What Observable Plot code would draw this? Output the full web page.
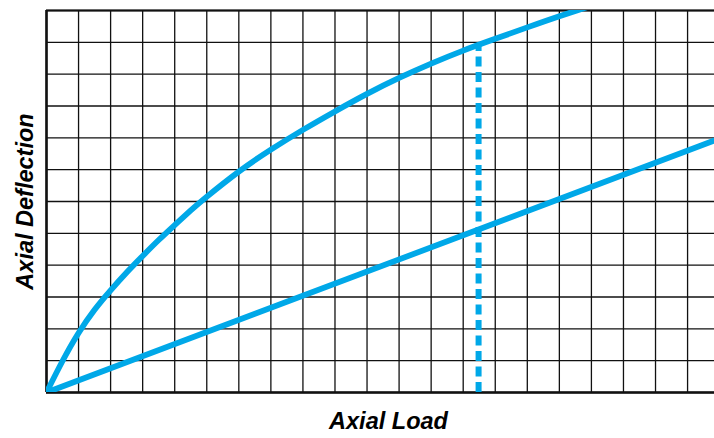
<!DOCTYPE html>
<html>
<head>
<meta charset="utf-8">
<script src="https://cdn.jsdelivr.net/npm/d3@7"></script>
<script src="https://cdn.jsdelivr.net/npm/@observablehq/plot@0.6"></script>
<style>
  html, body { margin: 0; padding: 0; background: #fff; overflow: hidden; }
  #chart svg { display: block; }
</style>
</head>
<body>
<div id="chart"></div>
<script>
// Grid positions (cell units)
const gridX = [0,1,2,3,4,5,6,7,8,9,10,11,12,13,14,15,16,17,18,19,20];
const gridY = [0,1,2,3,4,5,6,7,8,9,10,11,12];

// Upper (nonlinear) curve
const curveLoad = [0, 0.5, 1, 1.5, 2, 2.5, 3, 3.5, 4, 4.5, 5, 6, 7, 8, 9, 10, 11, 12, 13, 14, 15, 16, 17];
const curveDefl = [0, 0.99, 1.87, 2.60, 3.21, 3.77, 4.29, 4.79, 5.26, 5.72, 6.15, 6.94, 7.63, 8.25, 8.83, 9.38, 9.88, 10.33, 10.74, 11.11, 11.47, 11.82, 12.15];

// Lower (linear) line
const lineLoad = [0, 21.5];
const lineDefl = [0, 8.17];

// Dashed marker
const markLoad = [13.48];
const markDefl = [10.92];

const xLabel = "Axial Load";
const yLabel = "Axial Deflection";

const blue = "#00a8e8";
const curve = curveLoad.map((x, i) => ({x, y: curveDefl[i]}));
const line = lineLoad.map((x, i) => ({x, y: lineDefl[i]}));
const marker = markLoad.map((x, i) => ({x, y: markDefl[i]}));

const chart = Plot.plot({
  width: 714,
  height: 438,
  marginLeft: 46,
  marginRight: 0,
  marginTop: 10,
  marginBottom: 46,
  x: {domain: [0, 20.84], axis: null},
  y: {domain: [0, 12], axis: null},
  style: {fontFamily: "'Liberation Sans', Arial, sans-serif", background: "#fff"},
  marks: [
    Plot.ruleX(gridX, {stroke: "#111", strokeWidth: 1.3}),
    Plot.ruleY(gridY, {stroke: "#111", strokeWidth: 1.3}),
    Plot.ruleY([12], {stroke: "#111", strokeWidth: 2.2}),
    Plot.ruleY([0], {stroke: "#111", strokeWidth: 2.6}),
    Plot.ruleX([0], {stroke: "#111", strokeWidth: 2.6}),
    Plot.ruleX(marker, {x: "x", y1: 0, y2: "y", stroke: blue, strokeWidth: 6, strokeDasharray: "10,5.5"}),
    Plot.line(line, {x: "x", y: "y", stroke: blue, strokeWidth: 5.8, clip: true}),
    Plot.line(curve, {x: "x", y: "y", stroke: blue, strokeWidth: 5.8, curve: "natural", clip: true}),
    Plot.text([xLabel], {frameAnchor: "bottom", dy: 36, dx: 8, text: d => d, fontSize: 23.5, fontWeight: "bold", fontStyle: "italic", fill: "#000"}),
    Plot.text([yLabel], {frameAnchor: "left", textAnchor: "middle", dx: -21, rotate: -90, text: d => d, fontSize: 23.5, fontWeight: "bold", fontStyle: "italic", fill: "#000"})
  ]
});
document.getElementById("chart").appendChild(chart);
</script>
</body>
</html>
